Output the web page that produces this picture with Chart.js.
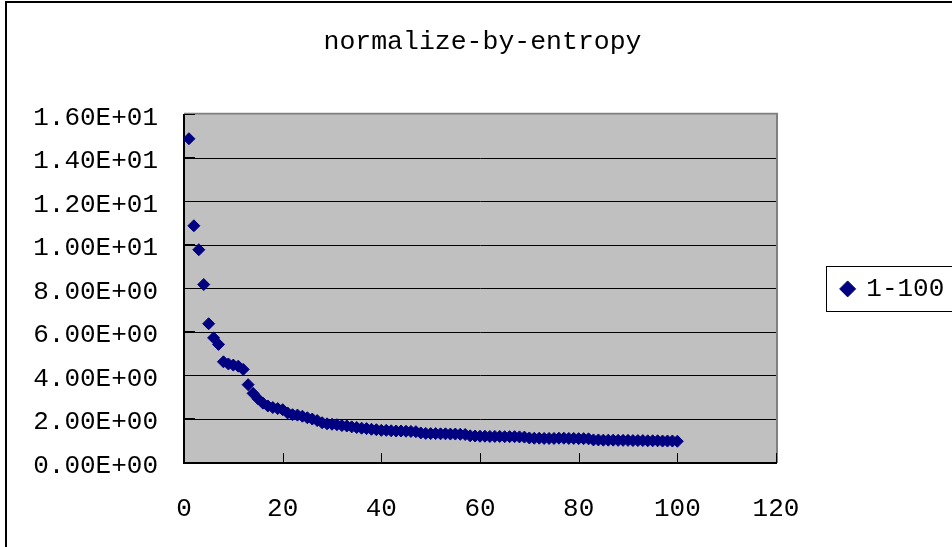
<!DOCTYPE html>
<html>
<head>
<meta charset="utf-8">
<script src="https://cdn.jsdelivr.net/npm/chart.js@4/dist/chart.umd.min.js"></script>
<style>
  html, body { margin: 0; padding: 0; background: #fff; overflow: hidden; width: 952px; height: 547px; }
  #frame { position: absolute; left: 5px; top: 1px; width: 2000px; height: 2000px;
           border-left: 2px solid #000; border-top: 2px solid #000; box-sizing: border-box; }
  #c { position: absolute; left: 0; top: 0; }
</style>
</head>
<body>
<div id="frame"></div>
<canvas id="c" width="952" height="547"></canvas>
<script>
const chartTitle = 'normalize-by-entropy';
const seriesName = '1-100';
const xValues = [];
for (let i = 1; i <= 100; i++) xValues.push(i);
const yValues = [
  14.9, 10.9, 9.8, 8.2, 6.4, 5.75, 5.45, 4.65, 4.55, 4.5,
  4.45, 4.3, 3.6, 3.2, 2.95, 2.75, 2.62, 2.55, 2.5, 2.45,
  2.3, 2.22, 2.2, 2.15, 2.08, 2.02, 1.95, 1.85, 1.8, 1.78,
  1.76, 1.72, 1.7, 1.66, 1.63, 1.6, 1.58, 1.55, 1.53, 1.5,
  1.5, 1.48, 1.47, 1.47, 1.46, 1.45, 1.44, 1.38, 1.36, 1.35,
  1.35, 1.34, 1.34, 1.33, 1.33, 1.32, 1.31, 1.25, 1.24, 1.23,
  1.23, 1.22, 1.22, 1.22, 1.21, 1.21, 1.21, 1.2, 1.19, 1.15,
  1.14, 1.14, 1.13, 1.13, 1.13, 1.14, 1.14, 1.13, 1.13, 1.12,
  1.12, 1.11, 1.06, 1.06, 1.05, 1.05, 1.05, 1.04, 1.04, 1.04,
  1.03, 1.03, 1.03, 1.02, 1.02, 1.02, 1.01, 1.01, 1.01, 1.0
];
const xTickLabels = ['0', '20', '40', '60', '80', '100', '120'];
const yTickLabels = ['0.00E+00', '2.00E+00', '4.00E+00', '6.00E+00', '8.00E+00',
                     '1.00E+01', '1.20E+01', '1.40E+01', '1.60E+01'];

const FONT = 'Liberation Mono, DejaVu Sans Mono, monospace';
const points = xValues.map((x, i) => ({ x: x, y: yValues[i] }));

const plotDecor = {
  id: 'plotDecor',
  beforeDraw(chart) {
    const a = chart.chartArea, ctx = chart.ctx;
    ctx.save();
    ctx.fillStyle = '#C0C0C0';
    ctx.fillRect(a.left, a.top, a.right - a.left, a.bottom - a.top);
    ctx.restore();
  },
  beforeDatasetsDraw(chart) {
    const a = chart.chartArea, ctx = chart.ctx;
    const xs = chart.scales.x, ys = chart.scales.y;
    ctx.save();
    ctx.strokeStyle = '#808080';
    ctx.lineWidth = 2;
    ctx.beginPath();
    ctx.moveTo(a.left, a.top - 1);
    ctx.lineTo(a.right + 1, a.top - 1);
    ctx.lineTo(a.right + 1, a.bottom);
    ctx.stroke();
    ctx.strokeStyle = '#000';
    ctx.lineWidth = 1;
    ctx.beginPath();
    xs.ticks.forEach(t => {
      const px = Math.round(xs.getPixelForValue(t.value)) + 0.5;
      ctx.moveTo(px, a.bottom);
      ctx.lineTo(px, a.bottom - 10);
    });
    ys.ticks.forEach(t => {
      const py = Math.round(ys.getPixelForValue(t.value)) - 0.5;
      ctx.moveTo(a.left, py);
      ctx.lineTo(a.left + 11, py);
    });
    ctx.stroke();
    ctx.restore();
  },
  afterDraw(chart) {
    const lg = chart.legend;
    if (!lg || !lg.legendHitBoxes || !lg.legendHitBoxes.length) return;
    const hb = lg.legendHitBoxes[0];
    const ctx = chart.ctx;
    ctx.save();
    ctx.strokeStyle = '#000';
    ctx.lineWidth = 1;
    ctx.strokeRect(Math.round(hb.left - 16) + 0.5, Math.round(hb.top - 10) + 0.5, 300, Math.round(hb.height + 19));
    ctx.restore();
  }
};

new Chart(document.getElementById('c'), {
  type: 'scatter',
  data: {
    datasets: [{
      label: seriesName,
      data: points,
      pointStyle: 'rectRot',
      pointRadius: 6,
      pointHoverRadius: 6,
      borderWidth: 1,
      backgroundColor: '#000080',
      borderColor: '#000080'
    }]
  },
  options: {
    responsive: false,
    animation: false,
    devicePixelRatio: 1,
    layout: { padding: { left: 13, right: 0, top: 0, bottom: 0 } },
    plugins: {
      title: {
        display: true,
        text: chartTitle,
        color: '#000',
        font: { family: FONT, size: 26.5, weight: 'normal', lineHeight: 1.2 },
        padding: { top: 26, bottom: 57 }
      },
      legend: {
        display: true,
        position: 'right',
        fullSize: false,
        maxWidth: 176,
        labels: {
          usePointStyle: true,
          boxWidth: 11.3,
          boxHeight: 11.3,
          padding: 66,
          color: '#000',
          font: { family: FONT, size: 26, weight: 'normal' }
        }
      },
      tooltip: { enabled: false }
    },
    scales: {
      x: {
        type: 'linear',
        min: 0,
        max: 120,
        afterFit(scale) { scale.height = 84; },
        afterBuildTicks(scale) {
          scale.ticks = xTickLabels.map(v => ({ value: Number(v) }));
        },
        ticks: {
          color: '#000',
          padding: 31,
          maxRotation: 0,
          font: { family: FONT, size: 26 },
          callback: (v, i) => xTickLabels[i]
        },
        grid: { display: false, drawTicks: false },
        border: { display: true, color: '#000', width: 2 }
      },
      y: {
        type: 'linear',
        min: 0,
        max: 16,
        afterFit(scale) { scale.width = 171; },
        afterBuildTicks(scale) {
          scale.ticks = yTickLabels.map(v => ({ value: Number(v) }));
        },
        ticks: {
          color: '#000',
          padding: 26,
          labelOffset: 3,
          font: { family: FONT, size: 26 },
          callback: (v, i) => yTickLabels[i]
        },
        grid: {
          drawTicks: false,
          color: ctx => (ctx.tick && ctx.tick.value === 16) ? 'rgba(0,0,0,0)' : '#000',
          lineWidth: 1
        },
        border: { display: true, color: '#000', width: 2 }
      }
    }
  },
  plugins: [plotDecor]
});
</script>
</body>
</html>
